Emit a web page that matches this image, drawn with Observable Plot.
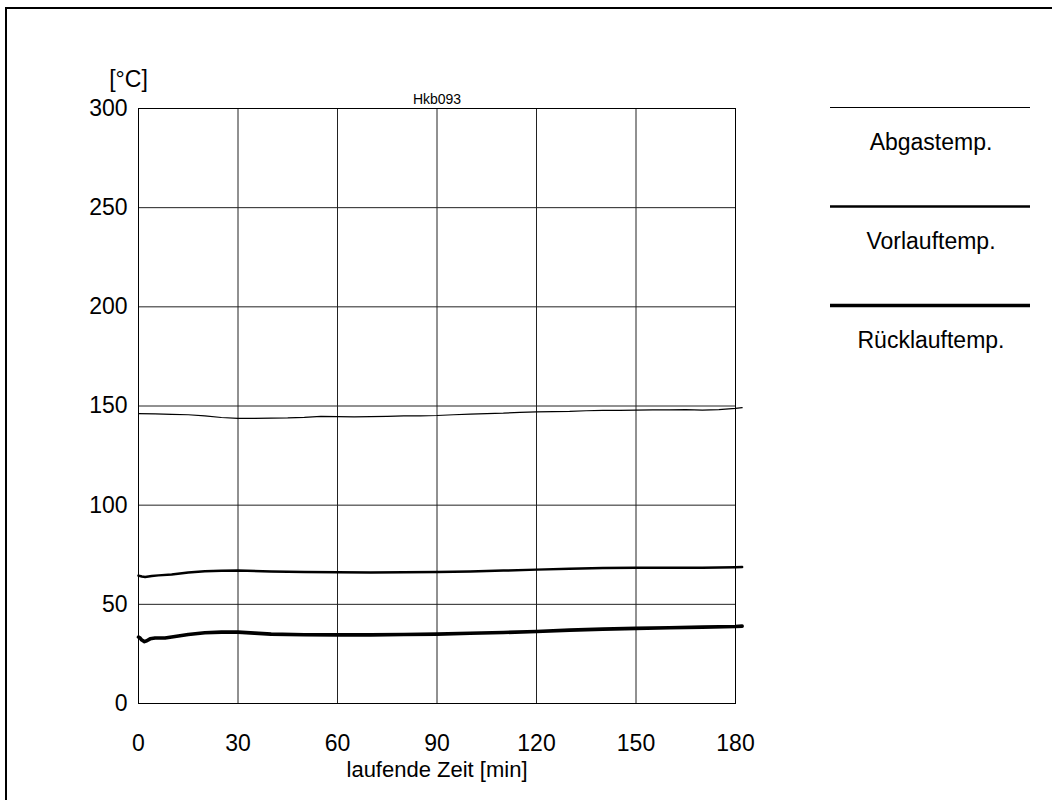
<!DOCTYPE html>
<html>
<head>
<meta charset="utf-8">
<script src="https://cdn.jsdelivr.net/npm/d3@7"></script>
<script src="https://cdn.jsdelivr.net/npm/@observablehq/plot@0.6"></script>
<style>
  html, body { margin: 0; padding: 0; background: #fff; }
  #wrap { position: relative; width: 1052px; height: 800px; overflow: hidden; font-family: "Liberation Sans", Arial, sans-serif; }
  #frame { position: absolute; left: 5px; top: 7px; width: 1200px; height: 1000px; border-left: 2px solid #000; border-top: 2px solid #000; }
  #chart { position: absolute; left: 0; top: 0; }
  #legend { position: absolute; left: 0; top: 0; }
</style>
</head>
<body>
<div id="wrap">
  <div id="frame"></div>
  <div id="chart"></div>
  <svg id="legend" width="1052" height="800"></svg>
</div>
<script>
// ---- data ----
const seriesNames = ["Abgastemp.", "Vorlauftemp.", "Rücklauftemp."];
const seriesWidths = [1.2, 2.5, 3.6];

const abgasTime = [0, 5, 10, 15, 20, 25, 30, 35, 40, 45, 50, 55, 60, 65, 70, 75, 80, 85, 90, 95, 100, 105, 110, 115, 120, 125, 130, 135, 140, 145, 150, 155, 160, 165, 170, 175, 180, 182];
const abgasTemp = [146.2, 146.0, 145.8, 145.6, 145.0, 144.2, 143.8, 143.8, 143.9, 144.0, 144.3, 144.8, 144.6, 144.5, 144.6, 144.8, 145.0, 145.0, 145.2, 145.6, 145.9, 146.2, 146.4, 146.8, 147.0, 147.2, 147.3, 147.6, 147.8, 147.8, 147.9, 148.0, 148.0, 148.2, 147.9, 148.2, 148.8, 149.2];

const vorTime = [0, 1, 2, 4, 6, 10, 15, 20, 25, 30, 40, 50, 60, 70, 80, 90, 100, 110, 120, 130, 140, 150, 160, 170, 180, 182];
const vorTemp = [64.5, 64.0, 63.8, 64.3, 64.6, 65.0, 66.0, 66.7, 66.9, 67.0, 66.6, 66.3, 66.2, 66.1, 66.2, 66.3, 66.6, 67.0, 67.5, 68.0, 68.3, 68.5, 68.5, 68.4, 68.7, 68.8];

const rueckTime = [0, 0.5, 1, 1.8, 2.5, 3.5, 5, 8, 10, 15, 20, 25, 30, 35, 40, 50, 60, 70, 80, 90, 100, 110, 120, 130, 140, 150, 160, 170, 180, 182];
const rueckTemp = [33.5, 33.0, 32.0, 31.2, 31.6, 32.6, 33.0, 33.0, 33.5, 34.8, 35.7, 36.0, 36.0, 35.5, 35.0, 34.7, 34.6, 34.6, 34.8, 35.0, 35.4, 35.8, 36.3, 37.0, 37.5, 37.9, 38.2, 38.5, 38.8, 39.0];

const xTicks = [0, 30, 60, 90, 120, 150, 180];
const yTicks = [0, 50, 100, 150, 200, 250, 300];
const chartTitle = "Hkb093";
const xLabel = "laufende Zeit [min]";
const yLabel = "[°C]";

// ---- build ----
const toRows = (t, v) => t.map((x, i) => ({x, y: v[i]}));
const rows = [toRows(abgasTime, abgasTemp), toRows(vorTime, vorTemp), toRows(rueckTime, rueckTemp)];

const font = "Liberation Sans, Arial, sans-serif";
const plot = Plot.plot({
  width: 1052,
  height: 800,
  marginLeft: 138,
  marginRight: 317,
  marginTop: 108,
  marginBottom: 97,
  style: {fontFamily: font, fontSize: "23px", color: "#000", background: "transparent", overflow: "visible"},
  x: {domain: [0, 180], ticks: xTicks, tickSize: 0, tickPadding: 31, label: null},
  y: {domain: [0, 300], ticks: yTicks, tickSize: 0, tickPadding: 11, label: null},
  marks: [
    Plot.gridX(xTicks, {stroke: "#222", strokeOpacity: 1, strokeWidth: 1}),
    Plot.gridY(yTicks, {stroke: "#222", strokeOpacity: 1, strokeWidth: 1}),
    Plot.frame({stroke: "#000", strokeWidth: 1}),
    ...rows.map((r, i) => Plot.line(r, {x: "x", y: "y", stroke: "#000", strokeWidth: seriesWidths[i], clip: false})),
    Plot.text([chartTitle], {frameAnchor: "top", dy: -14, fontSize: 14, fill: "#000"}),
    Plot.text([yLabel], {frameAnchor: "top-left", dx: -10, dy: -38, fontSize: 23, fill: "#000", textAnchor: "middle"}),
    Plot.text([xLabel], {frameAnchor: "bottom", dy: 73, fontSize: 22, fill: "#000"}),
  ]
});
document.getElementById("chart").appendChild(plot);

// ---- legend ----
const leg = d3.select("#legend");
const legX0 = 830, legX1 = 1030, legTop = 107.5, legStep = 99;
seriesNames.forEach((name, i) => {
  const y = legTop + i * legStep;
  leg.append("line").attr("x1", legX0).attr("x2", legX1).attr("y1", y).attr("y2", y)
    .attr("stroke", "#000").attr("stroke-width", seriesWidths[i]);
  leg.append("text").attr("x", (legX0 + legX1) / 2 + 1).attr("y", y + 34)
    .attr("dy", "0.35em").attr("text-anchor", "middle")
    .attr("font-family", font).attr("font-size", 23).attr("fill", "#000").text(name);
});
</script>
</body>
</html>
